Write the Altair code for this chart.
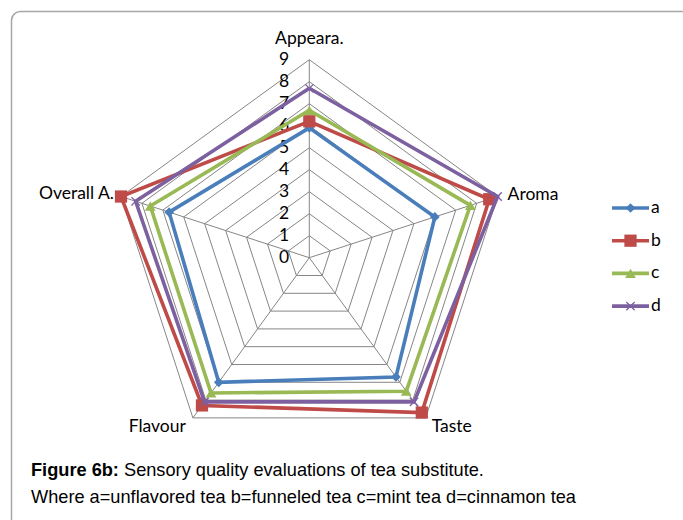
import altair as alt
import pandas as pd

# Sensory scores per attribute (0-9 scale)
categories = ["Appeara.", "Aroma", "Taste", "Flavour", "Overall A."]
series = ["a", "b", "c", "d"]
a_scores = [5.9, 6.0, 6.7, 7.0, 6.7]
b_scores = [6.2, 8.6, 8.7, 8.3, 9.0]
c_scores = [6.7, 7.7, 7.5, 7.6, 7.6]
d_scores = [7.7, 9.0, 8.1, 8.1, 8.3]
tick_levels = [0, 1, 2, 3, 4, 5, 6, 7, 8, 9]

colors = ["#4A7EBB", "#BE4B48", "#98B954", "#7D60A0"]
scores = dict(zip(series, [a_scores, b_scores, c_scores, d_scores]))

W, H = 683, 520
CX, CY, UNIT = 309.3, 257.7, 22.0
n = len(categories)
max_level = tick_levels[-1]

# long table of scores, with the first vertex repeated to close each ring
rows = []
for s in series:
    for i in range(n + 1):
        rows.append({"series": s, "idx": i, "category": categories[i % n],
                     "value": scores[s][i % n]})
score_df = pd.DataFrame(rows)

grid_df = pd.DataFrame([{"level": lv, "idx": i, "value": lv}
                        for lv in tick_levels[1:] for i in range(n + 1)])
spoke_df = pd.DataFrame([{"category": c, "idx": i, "value": v}
                         for i, c in enumerate(categories) for v in (0, max_level)])
label_df = pd.DataFrame({"category": categories, "idx": list(range(n)),
                         "value": [max_level] * n})
tick_df = pd.DataFrame({"level": tick_levels})


def to_xy(chart):
    return chart.transform_calculate(
        ang=f"PI/2 - datum.idx*2*PI/{n}"
    ).transform_calculate(
        px="datum.value*cos(datum.ang)", py="datum.value*sin(datum.ang)")


xscale = alt.Scale(domain=[-CX / UNIT, (W - CX) / UNIT], nice=False, zero=False)
yscale = alt.Scale(domain=[-(H - CY) / UNIT, CY / UNIT], nice=False, zero=False)
X = alt.X("px:Q", scale=xscale, axis=None)
Y = alt.Y("py:Q", scale=yscale, axis=None)

GRID = "#868686"
FONT = "Lato"
FS = 17.5

grid = to_xy(alt.Chart(grid_df)).mark_line(color=GRID, strokeWidth=1).encode(
    x=X, y=Y, detail="level:N", order="idx:Q")
spokes = to_xy(alt.Chart(spoke_df)).mark_line(color=GRID, strokeWidth=1).encode(
    x=X, y=Y, detail="category:N")

ticks = alt.Chart(tick_df).mark_text(
    font=FONT, fontSize=FS, color="#000000", align="center", baseline="middle"
).encode(
    x=alt.value(284),
    y=alt.Y("level:Q", scale=yscale, axis=None),
    text="level:Q",
)

# attribute names around the outer ring
label_style = {
    "Appeara.": dict(align="center", dx=0, dy=-21),
    "Aroma": dict(align="left", dx=10, dy=-2),
    "Taste": dict(align="left", dx=6, dy=9),
    "Flavour": dict(align="right", dx=-7, dy=9),
    "Overall A.": dict(align="right", dx=-7, dy=-3),
}
labels = []
for c in categories:
    labels.append(
        to_xy(alt.Chart(label_df)).transform_filter(alt.datum.category == c)
        .mark_text(font=FONT, fontSize=FS, color="#000000", baseline="middle",
                   **label_style[c])
        .encode(x=X, y=Y, text="category:N"))

markers = {
    "a": dict(shape="diamond", size=95, filled=True),
    "b": dict(shape="square", size=150, filled=True),
    "c": dict(shape="triangle-up", size=115, filled=True),
    "d": dict(shape="M-1,-1L1,1M-1,1L1,-1", size=70, filled=False, strokeWidth=1.3),
}

series_layers = []
for s, col in zip(series, colors):
    base = to_xy(alt.Chart(score_df)).transform_filter(alt.datum.series == s)
    series_layers.append(base.mark_line(color=col, strokeWidth=3.6).encode(
        x=X, y=Y, order="idx:Q"))
    series_layers.append(base.transform_filter(alt.datum.idx < n).mark_point(
        color=col, opacity=1, **markers[s]).encode(x=X, y=Y))

# legend on the right
legend_layers = []
for k, (s, col) in enumerate(zip(series, colors)):
    ly = 208 + k * 32.7
    leg = alt.Chart(pd.DataFrame({"series": [s]}))
    legend_layers.append(leg.mark_rule(color=col, strokeWidth=3.6).encode(
        x=alt.value(612), x2=alt.value(649), y=alt.value(ly)))
    legend_layers.append(leg.mark_point(color=col, opacity=1, **markers[s]).encode(
        x=alt.value(630.5), y=alt.value(ly)))
    legend_layers.append(leg.mark_text(
        font=FONT, fontSize=FS, color="#000000", align="left", baseline="middle"
    ).encode(x=alt.value(651), y=alt.value(ly), text="series:N"))

# outer frame and caption
frame = alt.Chart(pd.DataFrame({"k": [0]})).mark_rect(
    fill=None, stroke="#A6A6A6", strokeWidth=1.5, cornerRadius=9
).encode(x=alt.value(11.5), x2=alt.value(W + 30), y=alt.value(11.5),
         y2=alt.value(H + 30))

CAP_FONT = "Liberation Sans"
CAP_FS = 18.2
cap = alt.Chart(pd.DataFrame({"k": [0]}))
caption = [
    cap.mark_text(font=CAP_FONT, fontSize=CAP_FS, fontWeight="bold",
                  align="left", baseline="alphabetic", color="#000000",
                  text="Figure 6b:").encode(x=alt.value(31), y=alt.value(476)),
    cap.mark_text(font=CAP_FONT, fontSize=CAP_FS, align="left",
                  baseline="alphabetic", color="#000000",
                  text="Sensory quality evaluations of tea substitute.")
    .encode(x=alt.value(124), y=alt.value(476)),
    cap.mark_text(font=CAP_FONT, fontSize=CAP_FS, align="left",
                  baseline="alphabetic", color="#000000",
                  text="Where a=unflavored tea b=funneled tea c=mint tea d=cinnamon tea")
    .encode(x=alt.value(31), y=alt.value(503)),
]

chart = alt.layer(
    frame, grid, spokes, ticks, *labels, *series_layers, *legend_layers, *caption
).properties(
    width=W, height=H, padding=0, autosize=alt.AutoSizeParams(type="none"),
    background="#FFFFFF",
).configure_view(stroke=None)

chart.save("out.html", embed_options={"renderer": "svg", "actions": False})
